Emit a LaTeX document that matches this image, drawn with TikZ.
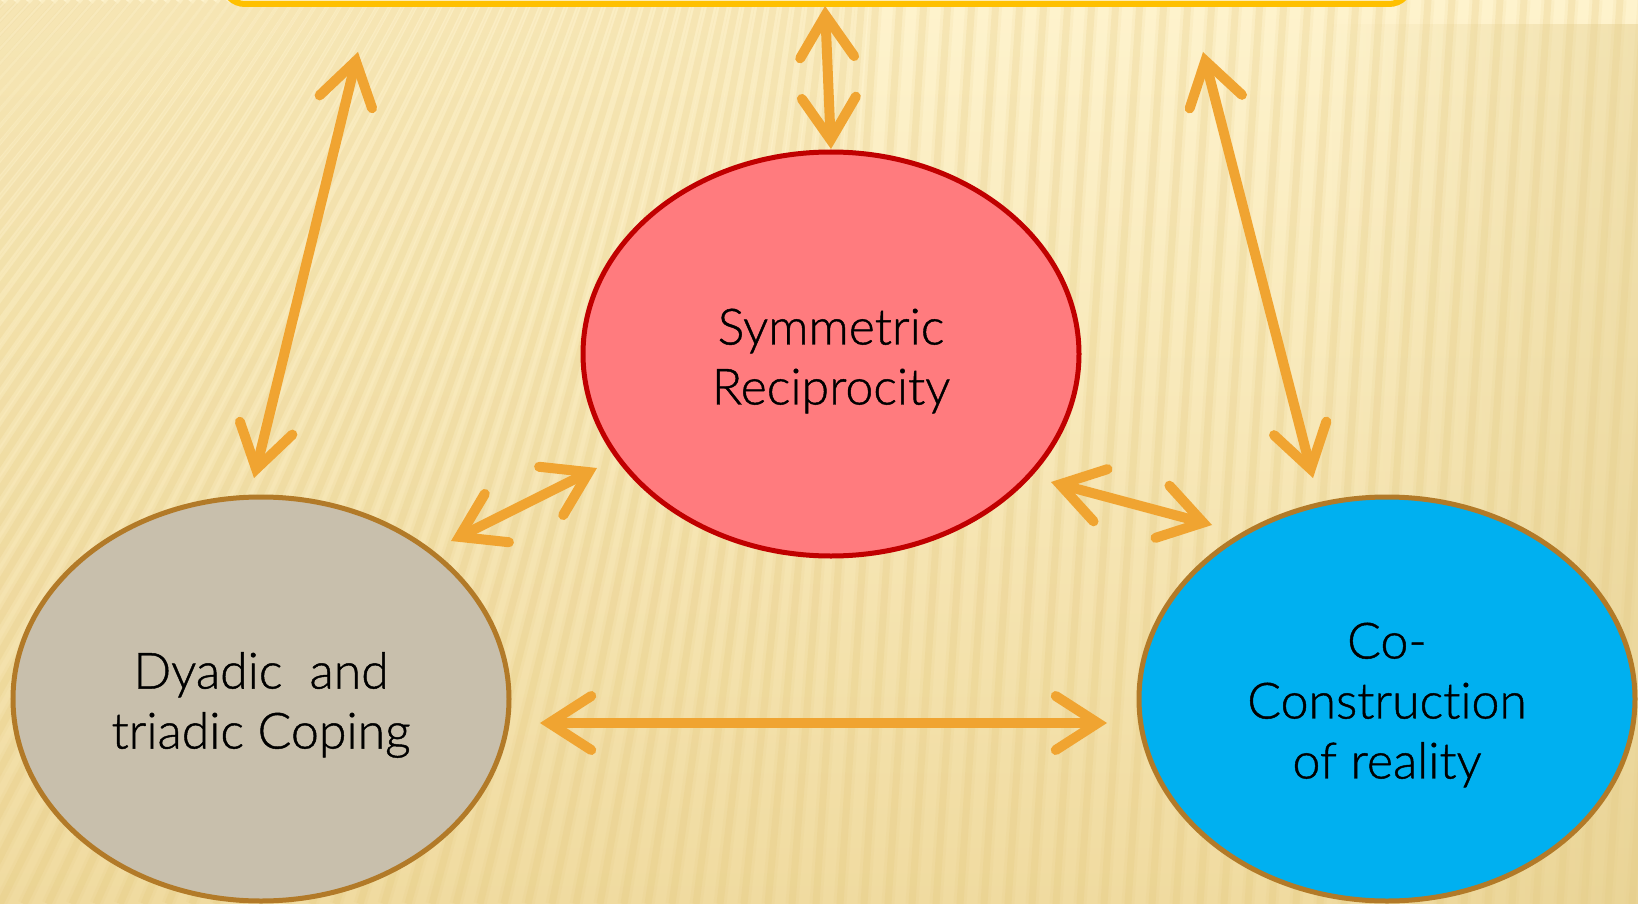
\documentclass[tikz,border=0pt]{standalone}
\usepackage{fontspec}
\IfFontExistsTF{Lato Light}{\setmainfont{Lato Light}[Ligatures=NoCommon,FakeBold=0.9]}{\setmainfont{Lato}[Ligatures=NoCommon]}
\usetikzlibrary{arrows.meta,shapes.geometric,fadings}
\definecolor{bgtop}{HTML}{FEF3CD}
\definecolor{bgmid}{HTML}{FCEEC3}
\definecolor{bgbot}{HTML}{F0DBA0}
\definecolor{stripec}{HTML}{E2C577}
\definecolor{patchc}{HTML}{E3CD8C}
\definecolor{goldc}{HTML}{FFC000}
\definecolor{arrowc}{HTML}{F0A431}
\definecolor{salmon}{HTML}{FF7B7E}
\definecolor{darkred}{HTML}{C00000}
\definecolor{taupe}{HTML}{C8BFAC}
\definecolor{brownc}{HTML}{B27A28}
\definecolor{skyc}{HTML}{00B0F0}
\tikzset{
  bubble/.style={ellipse, draw, line width=5pt, inner sep=0pt,
    minimum width=496pt, minimum height=404pt},
  bubbletext/.style={align=center, inner sep=0pt, font=\fontsize{50}{60}\selectfont},
  stripe/.style={draw=stripec, line width=7pt, opacity=0.2},
  stripesoft/.style={draw=stripec, line width=13pt, opacity=0.1},
  bidir/.style={draw=arrowc, line width=10pt,
    {Straight Barb[length=42pt,width=54pt,line cap=round,line join=miter]}-{Straight Barb[length=42pt,width=54pt,line cap=round,line join=miter]}}
}
\begin{document}
\begin{tikzpicture}[x=1pt,y=-1pt]
\useasboundingbox (0,0) rectangle (1638,904);
\shade[top color=bgtop, middle color=bgmid, bottom color=bgbot] (0,0) rectangle (1638,904);
\begin{scope}
\clip (0,0) rectangle (1638,904);
\foreach \i in {-40,...,72}{
  \pgfmathsetmacro{\xb}{\i*24}
  \pgfmathsetmacro{\xt}{\xb+max(60,450-0.48*\xb)}
  \draw[stripesoft] (\xb,904) -- (\xt,0);
  \draw[stripe] (\xb,904) -- (\xt,0);
}
\fill[patchc, opacity=0.45, path fading=west] (1330,22) rectangle (1638,904);
\end{scope}

\node[draw=goldc, fill=bgtop, line width=6pt, rounded corners=22pt,
  minimum width=1188pt, minimum height=90pt, inner sep=0pt] (top) at (817,-41) {};

\node[bubble, draw=darkred, fill=salmon] (sym) at (831,354) {};
\node[bubble, draw=brownc, fill=taupe] (dya) at (261,699) {};
\node[bubble, draw=brownc, fill=skyc] (coc) at (1387,699) {};
\node[bubbletext] (symt) at ([yshift=-7pt]sym.center) {Symmetric\\Reciprocity};
\node[bubbletext] (dyat) at ([yshift=-6pt]dya.center) {Dyadic\ \ and\\triadic Coping};
\node[bubbletext] (coct) at ([yshift=-6pt]coc.center) {Co-\\Construction\\of reality};

\coordinate (a1t) at (358,52);
\coordinate (a1b) at (254,478);
\coordinate (a2t) at (825,6);
\coordinate (a2b) at (831,149);
\coordinate (a3t) at (1203,52);
\coordinate (a3b) at (1313,478);
\coordinate (a4l) at (451,541);
\coordinate (a4r) at (597,468);
\coordinate (a5l) at (1051,482);
\coordinate (a5r) at (1212,525);
\coordinate (a6l) at (540,723);
\coordinate (a6r) at (1107,723);

\draw[bidir] (a1t) -- (a1b);
\draw[bidir] (a2t) -- (a2b);
\draw[bidir] (a3t) -- (a3b);
\draw[bidir] (a4l) -- (a4r);
\draw[bidir] (a5l) -- (a5r);
\draw[bidir] (a6l) -- (a6r);
\end{tikzpicture}
\end{document}
